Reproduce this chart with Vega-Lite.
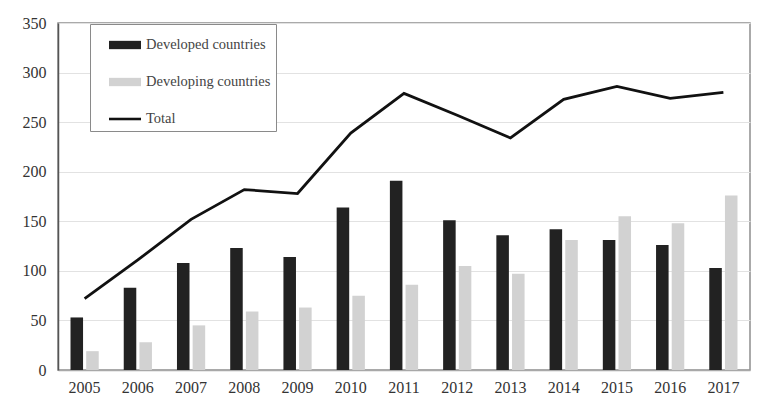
{
  "$schema": "https://vega.github.io/schema/vega-lite/v6.json",
  "width": 692,
  "height": 347,
  "autosize": {"type": "none"},
  "padding": {"left": 58, "top": 23, "right": 8, "bottom": 42},
  "background": "white",
  "config": {
    "font": "Liberation Serif",
    "view": {"stroke": "#8f8f8f", "strokeWidth": 1.5},
    "axis": {"labelFont": "Liberation Serif", "labelFontSize": 16, "labelColor": "#333333", "ticks": false, "title": null}
  },
  "data": {
    "values": [
      {"year": "2005", "series": "Developed countries", "value": 53},
      {"year": "2006", "series": "Developed countries", "value": 83},
      {"year": "2007", "series": "Developed countries", "value": 108},
      {"year": "2008", "series": "Developed countries", "value": 123},
      {"year": "2009", "series": "Developed countries", "value": 114},
      {"year": "2010", "series": "Developed countries", "value": 164},
      {"year": "2011", "series": "Developed countries", "value": 191},
      {"year": "2012", "series": "Developed countries", "value": 151},
      {"year": "2013", "series": "Developed countries", "value": 136},
      {"year": "2014", "series": "Developed countries", "value": 142},
      {"year": "2015", "series": "Developed countries", "value": 131},
      {"year": "2016", "series": "Developed countries", "value": 126},
      {"year": "2017", "series": "Developed countries", "value": 103},
      {"year": "2005", "series": "Developing countries", "value": 19},
      {"year": "2006", "series": "Developing countries", "value": 28},
      {"year": "2007", "series": "Developing countries", "value": 45},
      {"year": "2008", "series": "Developing countries", "value": 59},
      {"year": "2009", "series": "Developing countries", "value": 63},
      {"year": "2010", "series": "Developing countries", "value": 75},
      {"year": "2011", "series": "Developing countries", "value": 86},
      {"year": "2012", "series": "Developing countries", "value": 105},
      {"year": "2013", "series": "Developing countries", "value": 97},
      {"year": "2014", "series": "Developing countries", "value": 131},
      {"year": "2015", "series": "Developing countries", "value": 155},
      {"year": "2016", "series": "Developing countries", "value": 148},
      {"year": "2017", "series": "Developing countries", "value": 176},
      {"year": "2005", "series": "Total", "value": 72},
      {"year": "2006", "series": "Total", "value": 111},
      {"year": "2007", "series": "Total", "value": 152},
      {"year": "2008", "series": "Total", "value": 182},
      {"year": "2009", "series": "Total", "value": 178},
      {"year": "2010", "series": "Total", "value": 239},
      {"year": "2011", "series": "Total", "value": 279},
      {"year": "2012", "series": "Total", "value": 257},
      {"year": "2013", "series": "Total", "value": 234},
      {"year": "2014", "series": "Total", "value": 273},
      {"year": "2015", "series": "Total", "value": 286},
      {"year": "2016", "series": "Total", "value": 274},
      {"year": "2017", "series": "Total", "value": 280}
    ]
  },
  "layer": [
    {
      "transform": [{"filter": "datum.series !== 'Total'"}],
      "mark": {"type": "bar"},
      "encoding": {
        "x": {
          "field": "year", "type": "ordinal",
          "scale": {"paddingInner": 0.47, "paddingOuter": 0.235},
          "axis": {"labelAngle": 0, "labelPadding": 9, "labelFont": "Liberation Serif", "labelFontSize": 16, "labelColor": "#333333", "domainColor": "#a8a8a8", "domainWidth": 1.5, "grid": false}
        },
        "xOffset": {"field": "series", "type": "nominal", "scale": {"paddingInner": 0.2}},
        "y": {
          "field": "value", "type": "quantitative",
          "scale": {"domain": [0, 350], "nice": false},
          "axis": {"values": [0, 50, 100, 150, 200, 250, 300, 350], "labelPadding": 12, "labelFont": "Liberation Serif", "labelFontSize": 16, "labelColor": "#333333", "domainColor": "#555555", "domainWidth": 1.5, "gridColor": "#e2e2e2", "gridWidth": 1.2}
        },
        "color": {
          "field": "series", "type": "nominal",
          "scale": {"domain": ["Developed countries", "Developing countries", "Total"], "range": ["#222222", "#d2d2d2", "#111111"]},
          "legend": {
            "title": null,
            "orient": "none",
            "legendX": 32,
            "legendY": 1,
            "direction": "vertical",
            "fillColor": "white",
            "strokeColor": "#8a8a8a",
            "padding": 5,
            "rowPadding": 14,
            "symbolType": "M-1,-0.25H1V0.25H-1Z",
            "symbolSize": 1024,
            "symbolOffset": 14,
            "labelOffset": 5,
            "labelFont": "Liberation Serif",
            "labelFontSize": 14.5,
            "labelColor": "#444444",
            "labelLimit": 300,
            "encode": {
              "symbols": {"update": {
                "shape": {"signal": "datum.value === 'Total' ? 'M-1,-0.08H1V0.08H-1Z' : 'M-1,-0.26H1V0.26H-1Z'"},
                "fill": {"scale": "color", "field": "value"},
                "stroke": {"value": "transparent"},
                "strokeWidth": {"value": 0}
              }}
            }
          }
        }
      }
    },
    {
      "transform": [{"filter": "datum.series === 'Total'"}],
      "mark": {"type": "line", "strokeWidth": 2.8, "strokeJoin": "miter"},
      "encoding": {
        "x": {"field": "year", "type": "ordinal"},
        "y": {"field": "value", "type": "quantitative"},
        "color": {"field": "series", "type": "nominal"}
      }
    }
  ]
}
